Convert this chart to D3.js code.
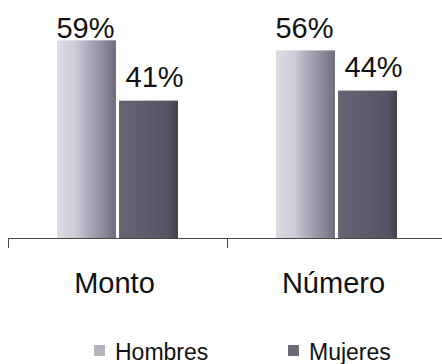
<!DOCTYPE html>
<html>
<head>
<meta charset="utf-8">
<script src="https://cdn.jsdelivr.net/npm/d3@7"></script>
<style>
  html, body { margin: 0; padding: 0; background: #fff; }
  svg { display: block; font-family: Arial, "Liberation Sans", sans-serif; }
</style>
</head>
<body>
<svg id="chart" width="442" height="364"></svg>
<script>
// Share (%) held by men and women, by amount and by number
const categories = ["Monto", "Número"];
const series = ["Hombres", "Mujeres"];
const hombres = [59, 56];
const mujeres = [41, 44];

const values = { Hombres: hombres, Mujeres: mujeres };
const rows = categories.flatMap((c, i) =>
  series.map(s => ({ category: c, series: s, value: values[s][i] })));

const svg = d3.select("#chart");
const baseY = 238;

// Category bands run from the left tick past the right edge of the canvas
const x = d3.scaleBand().domain(categories).range([8, 446]).padding(0);
const xInner = d3.scaleBand().domain(series)
  .range([49, 170]).paddingInner(0.05).paddingOuter(0);
const y = d3.scaleLinear().domain([0, 60]).range([baseY, 37]);

// Fills
const defs = svg.append("defs");
const gH = defs.append("linearGradient").attr("id", "fillHombres")
  .attr("x1", "0%").attr("x2", "100%").attr("y1", "0%").attr("y2", "0%");
[["0%", "#dcdce4"], ["30%", "#cfcdd8"], ["55%", "#aaa7b6"], ["80%", "#8d899c"], ["100%", "#6f6b7c"]]
  .forEach(([o, c]) => gH.append("stop").attr("offset", o).attr("stop-color", c));
const gM = defs.append("linearGradient").attr("id", "fillMujeres")
  .attr("x1", "0%").attr("x2", "100%").attr("y1", "0%").attr("y2", "0%");
[["0%", "#676572"], ["50%", "#5d5a6c"], ["85%", "#555261"], ["100%", "#43414e"]]
  .forEach(([o, c]) => gM.append("stop").attr("offset", o).attr("stop-color", c));
const fills = { Hombres: "url(#fillHombres)", Mujeres: "url(#fillMujeres)" };

// Bars
svg.append("g").selectAll("rect").data(rows).join("rect")
  .attr("x", d => x(d.category) + xInner(d.series))
  .attr("y", d => y(d.value))
  .attr("width", xInner.bandwidth())
  .attr("height", d => baseY - y(d.value))
  .attr("fill", d => fills[d.series]);

// Value labels above the bars
const labelShift = { Hombres: -1, Mujeres: 6 };
svg.append("g").selectAll("text").data(rows).join("text")
  .attr("x", d => x(d.category) + xInner(d.series) + xInner.bandwidth() / 2 + labelShift[d.series])
  .attr("y", d => Math.max(y(d.value) - 14, 38))
  .attr("text-anchor", "middle")
  .attr("font-size", 29)
  .attr("fill", "#111")
  .text(d => d.value + "%");

// Category axis along the baseline
const axis = svg.append("g").attr("transform", `translate(0,${baseY})`)
  .call(d3.axisBottom(x).tickSizeInner(0).tickSizeOuter(0).tickFormat(""));
axis.select(".domain").attr("stroke", "#4a4a4a").attr("stroke-width", 1);
axis.selectAll(".tick").remove();
// boundary ticks between categories
const bounds = [x.range()[0], ...categories.slice(1).map(c => x(c))];
axis.selectAll("line.bound").data(bounds).join("line")
  .attr("class", "bound")
  .attr("x1", d => d + 0.5).attr("x2", d => d + 0.5)
  .attr("y1", 0).attr("y2", 10)
  .attr("stroke", "#4a4a4a");

// Category names
svg.append("g").selectAll("text").data(categories).join("text")
  .attr("x", d => x(d) + x.bandwidth() / 2 - 3)
  .attr("y", 293)
  .attr("text-anchor", "middle")
  .attr("font-size", 29)
  .attr("fill", "#111")
  .text(d => d);

// Legend
const legendX = [94, 288];
const legend = svg.append("g").selectAll("g").data(series).join("g")
  .attr("transform", (d, i) => `translate(${legendX[i]},345)`);
legend.append("rect")
  .attr("width", 11).attr("height", 11)
  .attr("fill", d => d === "Hombres" ? "#b4b3bb" : "#6c6a74");
legend.append("text")
  .attr("x", 21).attr("y", 15)
  .attr("font-size", 23)
  .attr("fill", "#111")
  .text(d => d);
</script>
</body>
</html>
